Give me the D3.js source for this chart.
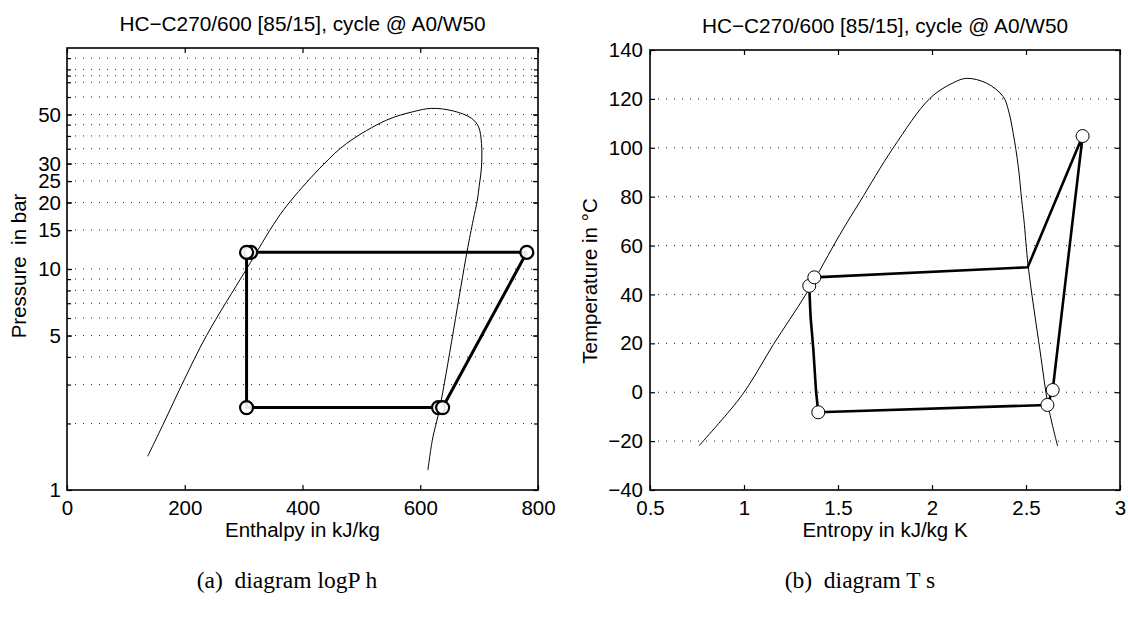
<!DOCTYPE html>
<html lang="en">
<head>
<meta charset="UTF-8">
<title>HC-C270/600 cycle diagrams</title>
<script src="https://d3js.org/d3.v7.min.js"></script>
<style>
  body { margin: 0; background: #fff; }
  svg text { font-family: "Liberation Sans", Arial, sans-serif; fill: #000; }
</style>
</head>
<body>
<div id="chart"></div>
<script>
// ---- logP-h diagram data ----
const domeH = [137, 164, 199, 237, 305, 356, 381, 435, 475, 543, 588, 619, 656, 687, 699, 704, 704, 700, 697, 690, 679, 633.5, 620.5, 613];
const domeP = [1.42, 2.0, 3.15, 5.0, 10, 16.7, 20.5, 29.6, 37, 47.2, 51.5, 53.3, 51.9, 48.1, 44, 37, 29, 23.6, 20.5, 16.7, 11.8, 2.38, 1.68, 1.23];
const cycleH = [781, 312, 305, 305, 631, 638, 781];
const cycleP = [11.9, 11.9, 11.9, 2.36, 2.36, 2.36, 11.9];
const markH = [781, 312, 305, 305, 631, 638];
const markP = [11.9, 11.9, 11.9, 2.36, 2.36, 2.36];
const phXTicks = [0, 200, 400, 600, 800];
const phYTicks = [1, 5, 10, 15, 20, 25, 30, 50];
const phGrid = [2, 3, 4, 5, 6, 7, 8, 9, 10, 15, 20, 25, 30, 35, 40, 45, 50, 60, 70, 75, 80, 90];

// ---- T-s diagram data ----
const domeS = [0.761, 0.97, 1.043, 1.156, 1.333, 1.51, 1.617, 1.794, 1.989, 2.113, 2.185, 2.291, 2.379, 2.406, 2.432, 2.459, 2.477, 2.489, 2.512, 2.574, 2.619, 2.668];
const domeT = [-21.9, -3.2, 5.0, 19.5, 40.5, 64.5, 78.0, 100.0, 120.2, 126.6, 128.4, 126.4, 120.9, 115.5, 105.9, 92.3, 78.6, 70.5, 51.4, 17.3, -5.9, -22];
const cycleS = [1.395, 1.383, 1.369, 1.354, 1.347, 1.374, 2.509, 2.801, 2.642, 2.614, 1.395];
const cycleT = [-8.2, 0.6, 17.3, 31.0, 43.5, 47.0, 51.1, 104.8, 0.9, -5.2, -8.2];
const markS = [1.395, 1.347, 1.374, 2.801, 2.642, 2.614];
const markT = [-8.2, 43.5, 47.0, 104.8, 0.9, -5.2];
const tsXTicks = [0.5, 1, 1.5, 2, 2.5, 3];
const tsYTicks = [-40, -20, 0, 20, 40, 60, 80, 100, 120, 140];
const tsGrid = [-20, 0, 20, 40, 60, 80, 100, 120];

const title = "HC\u2212C270/600 [85/15], cycle @ A0/W50";

const svg = d3.select("#chart").append("svg")
    .attr("width", 1128).attr("height", 617)
    .style("background", "#fff");

function panel(o) {
    const g = svg.append("g");
    const [x0, x1] = o.x.range();
    const [y0, y1] = o.y.range();

    // dotted grid
    g.append("g").selectAll("line").data(o.grid).enter().append("line")
        .attr("x1", x0).attr("x2", x1)
        .attr("y1", d => o.y(d)).attr("y2", d => o.y(d))
        .attr("stroke", "#222").attr("stroke-width", 1)
        .attr("stroke-dasharray", "1,7");

    const clean = s => s.call(a => a.select(".domain").remove())
        .call(a => a.selectAll(".tick line").attr("stroke", "#000").attr("stroke-width", 1.2))
        .call(a => a.selectAll("text").style("font-size", "20.5px")
            .style("font-family", "'Liberation Sans', Arial, sans-serif"));

    g.append("g").attr("transform", `translate(0,${y0})`)
        .call(d3.axisBottom(o.x).tickValues(o.xTicks).tickSize(-5).tickPadding(10).tickFormat(o.xFmt))
        .call(clean);
    g.append("g").attr("transform", `translate(0,${y1})`)
        .call(d3.axisTop(o.x).tickValues(o.xTicks).tickSize(-5).tickFormat(""))
        .call(clean);
    g.append("g").attr("transform", `translate(${x0},0)`)
        .call(d3.axisLeft(o.y).tickValues(o.yTicks).tickSize(-5).tickPadding(o.yPad).tickFormat(o.yFmt))
        .call(clean);
    g.append("g").attr("transform", `translate(${x1},0)`)
        .call(d3.axisRight(o.y).tickValues(o.yTicks).tickSize(-5).tickFormat(""))
        .call(clean);
    if (o.minor) {
        g.append("g").attr("transform", `translate(${x0},0)`)
            .call(d3.axisLeft(o.y).tickValues(o.minor).tickSize(-4).tickFormat(""))
            .call(clean);
        g.append("g").attr("transform", `translate(${x1},0)`)
            .call(d3.axisRight(o.y).tickValues(o.minor).tickSize(-4).tickFormat(""))
            .call(clean);
    }

    g.append("rect")
        .attr("x", x0).attr("y", y1)
        .attr("width", x1 - x0).attr("height", y0 - y1)
        .attr("fill", "none").attr("stroke", "#000").attr("stroke-width", 1.6);

    const cx = (x0 + x1) / 2;
    g.append("text").attr("x", cx).attr("y", o.titleY)
        .attr("text-anchor", "middle").style("font-size", "20.8px").text(title);
    g.append("text").attr("x", cx).attr("y", 537)
        .attr("text-anchor", "middle").style("font-size", "20.5px").text(o.xLabel);
    g.append("text")
        .attr("transform", `translate(${o.yLabelX},${o.yLabelY}) rotate(-90)`)
        .attr("text-anchor", "middle").style("font-size", "20.5px")
        .style("white-space", "pre").text(o.yLabel);
    g.append("text").attr("x", o.capX).attr("y", 588)
        .attr("text-anchor", "middle")
        .style("font-family", "'Liberation Serif', 'Times New Roman', serif")
        .style("font-size", "23.5px").style("white-space", "pre").text(o.caption);
    return g;
}

// ---- left panel ----
const xh = d3.scaleLinear().domain([0, 800]).range([67, 538]);
const yp = d3.scaleLog().domain([1, 100]).range([490, 48]);
const gL = panel({
    x: xh, y: yp, xTicks: phXTicks, yTicks: phYTicks, grid: phGrid,
    minor: phGrid, xFmt: d3.format("d"), yFmt: d3.format("d"), yPad: 6,
    titleY: 31, xLabel: "Enthalpy in kJ/kg", yLabel: "Pressure  in bar",
    yLabelX: 26, yLabelY: 266, capX: 287, caption: "(a)  diagram logP h"
});

gL.append("path")
    .datum(domeH.map((h, i) => [h, domeP[i]]))
    .attr("fill", "none").attr("stroke", "#000").attr("stroke-width", 1)
    .attr("d", d3.line().x(d => xh(d[0])).y(d => yp(d[1])).curve(d3.curveCatmullRom));
gL.append("path")
    .datum(cycleH.map((h, i) => [h, cycleP[i]]))
    .attr("fill", "none").attr("stroke", "#000").attr("stroke-width", 3)
    .attr("stroke-linejoin", "round")
    .attr("d", d3.line().x(d => xh(d[0])).y(d => yp(d[1])));
gL.append("g").selectAll("circle").data(markH.map((h, i) => [h, markP[i]])).enter()
    .append("circle")
    .attr("cx", d => xh(d[0])).attr("cy", d => yp(d[1])).attr("r", 6.5)
    .attr("fill", "#fff").attr("fill-opacity", 0.9)
    .attr("stroke", "#000").attr("stroke-width", 2.2);

// ---- right panel ----
const xs = d3.scaleLinear().domain([0.5, 3]).range([650, 1120]);
const yt = d3.scaleLinear().domain([-40, 140]).range([490, 50]);
const gR = panel({
    x: xs, y: yt, xTicks: tsXTicks, yTicks: tsYTicks, grid: tsGrid,
    xFmt: d3.format("~g"), yFmt: d => d < 0 ? "\u2212" + Math.abs(d) : d, yPad: 7,
    titleY: 33, xLabel: "Entropy in kJ/kg K", yLabel: "Temperature in \u00B0C",
    yLabelX: 597, yLabelY: 281, capX: 860, caption: "(b)  diagram T s"
});

gR.append("path")
    .datum(domeS.map((s, i) => [s, domeT[i]]))
    .attr("fill", "none").attr("stroke", "#000").attr("stroke-width", 1)
    .attr("d", d3.line().x(d => xs(d[0])).y(d => yt(d[1])).curve(d3.curveCatmullRom));
gR.append("path")
    .datum(cycleS.map((s, i) => [s, cycleT[i]]))
    .attr("fill", "none").attr("stroke", "#000").attr("stroke-width", 2.6)
    .attr("stroke-linejoin", "round")
    .attr("d", d3.line().x(d => xs(d[0])).y(d => yt(d[1])));
gR.append("g").selectAll("circle").data(markS.map((s, i) => [s, markT[i]])).enter()
    .append("circle")
    .attr("cx", d => xs(d[0])).attr("cy", d => yt(d[1])).attr("r", 6.5)
    .attr("fill", "#fff").attr("stroke", "#000").attr("stroke-width", 1);
</script>
</body>
</html>
